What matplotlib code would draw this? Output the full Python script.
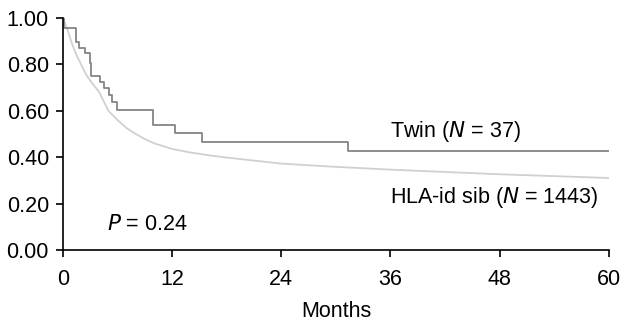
import matplotlib.pyplot as plt

plt.rcParams['font.family'] = ['Liberation Sans', 'DejaVu Sans']

# Twin (N = 37), Kaplan-Meier steps
twin_months = [0, 0.15, 1.43, 1.76, 2.42, 2.97, 3.15, 4.07, 4.5, 5.05, 5.35, 5.9,
               9.9, 12.3, 15.3, 31.3, 60]
twin_surv = [1.0, 0.957, 0.898, 0.869, 0.848, 0.804, 0.75, 0.725, 0.697, 0.668,
             0.639, 0.603, 0.539, 0.503, 0.467, 0.428, 0.428]

# HLA-id sib (N = 1443), dense curve
sib_months = [0, 0.5, 1, 1.5, 2, 2.5, 3, 4, 5, 6, 7, 8, 9, 10, 12, 14, 16, 18,
              21, 24, 30, 36, 42, 48, 54, 60]
sib_surv = [1.0, 0.95, 0.89, 0.84, 0.80, 0.76, 0.73, 0.68, 0.60, 0.56, 0.525,
            0.50, 0.478, 0.46, 0.435, 0.42, 0.408, 0.398, 0.385, 0.372, 0.358,
            0.346, 0.336, 0.326, 0.318, 0.31]

xticks = [0, 12, 24, 36, 48, 60]
yticks = [0.0, 0.2, 0.4, 0.6, 0.8, 1.0]

fig = plt.figure(figsize=(6.22, 3.25), dpi=100)
ax = fig.add_axes([0.101, 0.231, 0.878, 0.714])

ax.plot(sib_months, sib_surv, color="#d0d0d0", lw=1.3)
ax.step(twin_months, twin_surv, where="post", color="#858585", lw=1.3)

ax.set_xlim(0, 60)
ax.set_ylim(0, 1.0)
ax.set_xticks(xticks)
ax.set_yticks(yticks)
ax.set_yticklabels(["%.2f" % v for v in yticks])
for s in ["top", "right"]:
    ax.spines[s].set_visible(False)
for s in ["left", "bottom"]:
    ax.spines[s].set_linewidth(1.2)
    ax.spines[s].set_clip_on(False)
ax.tick_params(direction="out", length=5, width=1.2, labelsize=15.5)
ax.tick_params(axis="x", pad=9)
ax.tick_params(axis="y", pad=5)
ax.set_xlabel("Months", fontsize=15.5, labelpad=8)

ax.text(36, 0.51, "Twin ($\\it{N}$ = 37)", fontsize=15.5, va="center")
ax.text(35.9, 0.225, "HLA-id sib ($\\it{N}$ = 1443)", fontsize=15.5, va="center")
ax.text(4.8, 0.11, "$\\it{P}$ = 0.24", fontsize=15.5, va="center")

fig.savefig("out.png", dpi=100)
